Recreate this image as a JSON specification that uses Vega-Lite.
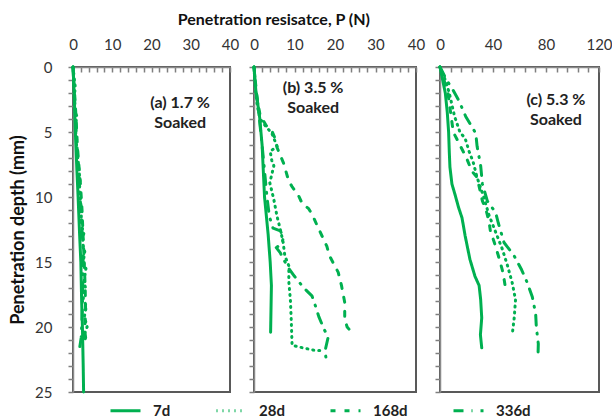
{
"$schema":"https://vega.github.io/schema/vega-lite/v6.json",
"padding":{"left":8,"top":12,"right":2,"bottom":0},
"config":{
  "font":"Lato",
  "view":{"stroke":"#595959","strokeWidth":2},
  "axis":{"domainColor":"#8a8a8a","domainWidth":1.5,"labelFontSize":15,"labelColor":"#333333","grid":false,"titleFontSize":18,"titleFontWeight":"bold","titleColor":"#111111","labelOverlap":false,"labelFlush":false,"ticks":true,"tickColor":"#7f7f7f","tickWidth":1.5,"tickOpacity":1}
},
"title":{"text":"Penetration resisatce, P (N)","fontSize":16,"fontWeight":"bold","color":"#111111","anchor":"middle","dx":-37,"offset":8},
"bounds":"flush",
"spacing":24,
"datasets":{
 "a":[
  {"age":"7d","P":0,"d":0},{"age":"7d","P":0.3,"d":2},{"age":"7d","P":0.6,"d":5},{"age":"7d","P":1.0,"d":8},{"age":"7d","P":1.3,"d":10},{"age":"7d","P":1.7,"d":13},{"age":"7d","P":2.0,"d":15},{"age":"7d","P":2.2,"d":18},{"age":"7d","P":2.4,"d":20},{"age":"7d","P":2.6,"d":23},{"age":"7d","P":2.7,"d":25},
  {"age":"28d","P":0,"d":0},{"age":"28d","P":0.6,"d":1.6},{"age":"28d","P":0.3,"d":2.2},{"age":"28d","P":0.5,"d":3.4},{"age":"28d","P":1.0,"d":3.8},{"age":"28d","P":0.6,"d":4.5},{"age":"28d","P":0.9,"d":6},{"age":"28d","P":1.4,"d":7.5},{"age":"28d","P":1.8,"d":8.8},{"age":"28d","P":1.6,"d":9.5},{"age":"28d","P":2.0,"d":10.5},{"age":"28d","P":2.2,"d":12.3},{"age":"28d","P":2.8,"d":12.7},{"age":"28d","P":2.4,"d":13.5},{"age":"28d","P":3.0,"d":14.2},{"age":"28d","P":2.6,"d":15},{"age":"28d","P":3.3,"d":15.5},{"age":"28d","P":2.8,"d":16.5},{"age":"28d","P":3.2,"d":17},{"age":"28d","P":2.6,"d":17.8},{"age":"28d","P":3.4,"d":18.4},{"age":"28d","P":2.9,"d":19.2},{"age":"28d","P":3.6,"d":20},{"age":"28d","P":2.8,"d":20.6},{"age":"28d","P":3.2,"d":21},
  {"age":"168d","P":0,"d":0},{"age":"168d","P":0.4,"d":2},{"age":"168d","P":0.8,"d":4},{"age":"168d","P":1.1,"d":6},{"age":"168d","P":1.4,"d":7.2},{"age":"168d","P":1.9,"d":9},{"age":"168d","P":2.3,"d":11},{"age":"168d","P":2.6,"d":13.2},{"age":"168d","P":2.9,"d":15.3},{"age":"168d","P":3.1,"d":17},{"age":"168d","P":3.2,"d":18.6},{"age":"168d","P":3.0,"d":20.3},{"age":"168d","P":3.3,"d":21},
  {"age":"336d","P":0,"d":0},{"age":"336d","P":0.5,"d":3},{"age":"336d","P":0.9,"d":5.5},{"age":"336d","P":1.3,"d":7.5},{"age":"336d","P":1.8,"d":10},{"age":"336d","P":2.3,"d":12.5},{"age":"336d","P":2.6,"d":14},{"age":"336d","P":2.5,"d":16.5},{"age":"336d","P":2.4,"d":18.5},{"age":"336d","P":2.1,"d":20.8},{"age":"336d","P":1.5,"d":22}
 ],
 "b":[
  {"age":"7d","P":0,"d":0},{"age":"7d","P":0.5,"d":2},{"age":"7d","P":1.0,"d":3},{"age":"7d","P":1.4,"d":3.9},{"age":"7d","P":2.0,"d":6},{"age":"7d","P":2.6,"d":10},{"age":"7d","P":3.5,"d":12.9},{"age":"7d","P":4.0,"d":15},{"age":"7d","P":4.3,"d":16.8},{"age":"7d","P":4.1,"d":20.4},
  {"age":"28d","P":0,"d":0},{"age":"28d","P":0.3,"d":1.5},{"age":"28d","P":0.8,"d":3},{"age":"28d","P":1.5,"d":4},{"age":"28d","P":3.0,"d":4.6},{"age":"28d","P":4.4,"d":5.1},{"age":"28d","P":5.7,"d":6.1},{"age":"28d","P":4.0,"d":6.5},{"age":"28d","P":4.4,"d":7.2},{"age":"28d","P":4.9,"d":7.6},{"age":"28d","P":3.9,"d":8.9},{"age":"28d","P":4.9,"d":10.2},{"age":"28d","P":5.7,"d":11.5},{"age":"28d","P":6.5,"d":12.5},{"age":"28d","P":7.2,"d":13.5},{"age":"28d","P":7.6,"d":14.5},{"age":"28d","P":8.6,"d":15.3},{"age":"28d","P":8.6,"d":16.5},{"age":"28d","P":9.0,"d":18},{"age":"28d","P":9.2,"d":19.5},{"age":"28d","P":9.4,"d":21.4},{"age":"28d","P":12.0,"d":21.6},{"age":"28d","P":15.1,"d":21.8},{"age":"28d","P":17.0,"d":21.8},
  {"age":"168d","P":0,"d":0},{"age":"168d","P":0.3,"d":1},{"age":"168d","P":0.8,"d":2.5},{"age":"168d","P":1.5,"d":3.7},{"age":"168d","P":3.0,"d":4.5},{"age":"168d","P":4.4,"d":4.9},{"age":"168d","P":5.2,"d":5.5},{"age":"168d","P":5.7,"d":6.2},{"age":"168d","P":6.5,"d":6.8},{"age":"168d","P":7.3,"d":7.4},{"age":"168d","P":8.6,"d":8.8},{"age":"168d","P":9.4,"d":9.2},{"age":"168d","P":11.0,"d":9.9},{"age":"168d","P":11.9,"d":10.5},{"age":"168d","P":13.5,"d":10.9},{"age":"168d","P":14.3,"d":11.3},{"age":"168d","P":15.6,"d":12.2},{"age":"168d","P":16.8,"d":13},{"age":"168d","P":18.0,"d":13.8},{"age":"168d","P":18.6,"d":14.5},{"age":"168d","P":20.8,"d":15.8},{"age":"168d","P":21.6,"d":16.8},{"age":"168d","P":22.4,"d":18.1},{"age":"168d","P":22.4,"d":19.4},{"age":"168d","P":23.0,"d":20},{"age":"168d","P":24.1,"d":20.4},
  {"age":"336d","P":0,"d":0},{"age":"336d","P":0.4,"d":1.5},{"age":"336d","P":1.0,"d":3},{"age":"336d","P":1.5,"d":4.5},{"age":"336d","P":2.0,"d":6},{"age":"336d","P":2.6,"d":8},{"age":"336d","P":3.2,"d":10},{"age":"336d","P":3.8,"d":11.5},{"age":"336d","P":4.7,"d":12.4},{"age":"336d","P":6.5,"d":12.6},{"age":"336d","P":7.3,"d":13.1},{"age":"336d","P":6.8,"d":13.6},{"age":"336d","P":5.5,"d":13.9},{"age":"336d","P":6.5,"d":14.3},{"age":"336d","P":7.3,"d":14.8},{"age":"336d","P":8.6,"d":15.5},{"age":"336d","P":10.0,"d":16.1},{"age":"336d","P":12.3,"d":17},{"age":"336d","P":14.3,"d":17.6},{"age":"336d","P":15.3,"d":18.5},{"age":"336d","P":16.0,"d":19.2},{"age":"336d","P":17.2,"d":20.1},{"age":"336d","P":18.3,"d":20.8},{"age":"336d","P":17.5,"d":21.9},{"age":"336d","P":17.8,"d":22.4},{"age":"336d","P":18.8,"d":22.7}
 ],
 "c":[
  {"age":"7d","P":0,"d":0},{"age":"7d","P":2,"d":1},{"age":"7d","P":4,"d":2},{"age":"7d","P":5.5,"d":3.5},{"age":"7d","P":6.5,"d":5},{"age":"7d","P":7,"d":6.5},{"age":"7d","P":7.5,"d":7.7},{"age":"7d","P":9,"d":9},{"age":"7d","P":11.3,"d":9.8},{"age":"7d","P":14,"d":10.8},{"age":"7d","P":16.6,"d":11.6},{"age":"7d","P":19,"d":13},{"age":"7d","P":22.6,"d":14.8},{"age":"7d","P":26.4,"d":16.1},{"age":"7d","P":29.5,"d":16.8},{"age":"7d","P":30.7,"d":17.9},{"age":"7d","P":31.5,"d":19.3},{"age":"7d","P":30.5,"d":20.6},{"age":"7d","P":31.5,"d":21.6},
  {"age":"28d","P":0,"d":0},{"age":"28d","P":4,"d":1},{"age":"28d","P":7,"d":2},{"age":"28d","P":11,"d":3.8},{"age":"28d","P":15,"d":5},{"age":"28d","P":19,"d":5.5},{"age":"28d","P":22,"d":6.5},{"age":"28d","P":25,"d":7.3},{"age":"28d","P":28,"d":8.5},{"age":"28d","P":33,"d":10},{"age":"28d","P":37,"d":11.4},{"age":"28d","P":42,"d":12.7},{"age":"28d","P":47,"d":14},{"age":"28d","P":51,"d":15.3},{"age":"28d","P":54.5,"d":16.6},{"age":"28d","P":57,"d":17.9},{"age":"28d","P":56,"d":19.3},{"age":"28d","P":54.5,"d":20.6},
  {"age":"168d","P":0,"d":0},{"age":"168d","P":3,"d":1},{"age":"168d","P":6,"d":2},{"age":"168d","P":8,"d":3.5},{"age":"168d","P":10,"d":5},{"age":"168d","P":15,"d":6},{"age":"168d","P":20,"d":7},{"age":"168d","P":24,"d":8},{"age":"168d","P":28,"d":8.5},{"age":"168d","P":32,"d":10.3},{"age":"168d","P":35,"d":11.1},{"age":"168d","P":37,"d":11.9},{"age":"168d","P":38,"d":12.6},{"age":"168d","P":41,"d":13.5},{"age":"168d","P":44,"d":14.5},{"age":"168d","P":47,"d":15.6},{"age":"168d","P":48.5,"d":16.4},{"age":"168d","P":50,"d":17.4},
  {"age":"336d","P":0,"d":0},{"age":"336d","P":5,"d":1},{"age":"336d","P":10,"d":1.8},{"age":"336d","P":14.3,"d":2.6},{"age":"336d","P":19.4,"d":3.8},{"age":"336d","P":27,"d":5.1},{"age":"336d","P":28,"d":6.1},{"age":"336d","P":30.7,"d":7.6},{"age":"336d","P":32,"d":9},{"age":"336d","P":35.7,"d":10.3},{"age":"336d","P":42,"d":11.2},{"age":"336d","P":44,"d":12},{"age":"336d","P":48.3,"d":13.5},{"age":"336d","P":55.8,"d":14.5},{"age":"336d","P":61.6,"d":15.6},{"age":"336d","P":65.9,"d":16.6},{"age":"336d","P":69.7,"d":17.7},{"age":"336d","P":72.2,"d":19},{"age":"336d","P":72.7,"d":20},{"age":"336d","P":74.2,"d":21.3},{"age":"336d","P":74,"d":22.1}
 ]
},
"hconcat":[
 {"width":157,"height":325,
  "layer":[
   {"data":{"name":"a"},
    "mark":{"type":"line","color":"#00B050","strokeWidth":3,"strokeCap":"round","strokeJoin":"round"},
    "encoding":{
     "x":{"field":"P","type":"quantitative","scale":{"domain":[0,40],"nice":false},"axis":{"orient":"top","title":null,"values":[0,2,4,6,8,10,12,14,16,18,20,22,24,26,28,30,32,34,36,38,40],"labelExpr":"datum.value % 10 === 0 ? datum.label : ''","tickSize":-5,"labelPadding":20}},
     "y":{"field":"d","type":"quantitative","scale":{"domain":[0,25],"reverse":true,"nice":false},"axis":{"values":[0,1,2,3,4,5,6,7,8,9,10,11,12,13,14,15,16,17,18,19,20,21,22,23,24,25],"labelExpr":"datum.value % 5 === 0 ? datum.label : ''","title":"Penetration depth (mm)","tickSize":5,"labelPadding":16,"titlePadding":7}},
     "strokeDash":{"field":"age","type":"nominal","scale":{"domain":["7d","28d","168d","336d"],"range":[[1,0],[1,5],[5,9],[10,8,1,8]]},
      "legend":{"title":null,"orient":"none","direction":"horizontal","legendX":36,"legendY":327,"symbolType":"stroke","symbolSize":900,"symbolStrokeWidth":3,"symbolStrokeColor":"#00B050","labelFontSize":15,"labelFontWeight":"bold","labelColor":"#222222","labelOffset":11,"columnPadding":39}},
     "order":{"value":null}
    }},
   {"data":{"values":[{"t":"a"}]},
    "mark":{"type":"text","fontSize":16,"fontWeight":"bold","color":"#222222","lineHeight":20,"align":"center","baseline":"middle"},
    "encoding":{
     "x":{"datum":27.3,"type":"quantitative","axis":{"orient":"top","title":null,"values":[0,2,4,6,8,10,12,14,16,18,20,22,24,26,28,30,32,34,36,38,40],"labelExpr":"datum.value % 10 === 0 ? datum.label : ''","tickSize":-5,"labelPadding":20}},
     "y":{"datum":2.8,"type":"quantitative","axis":{"values":[0,1,2,3,4,5,6,7,8,9,10,11,12,13,14,15,16,17,18,19,20,21,22,23,24,25],"labelExpr":"datum.value % 5 === 0 ? datum.label : ''","title":"Penetration depth (mm)","tickSize":5,"labelPadding":16,"titlePadding":7}},
     "text":{"value":["(a) 1.7 %","Soaked"]}}}
  ]},
 {"width":162,"height":325,
  "layer":[
   {"data":{"name":"b"},
    "mark":{"type":"line","color":"#00B050","strokeWidth":3,"strokeCap":"round","strokeJoin":"round"},
    "encoding":{
     "x":{"field":"P","type":"quantitative","scale":{"domain":[0,40],"nice":false},"axis":{"orient":"top","title":null,"values":[0,2,4,6,8,10,12,14,16,18,20,22,24,26,28,30,32,34,36,38,40],"labelExpr":"datum.value % 10 === 0 ? datum.label : ''","tickSize":-5,"labelPadding":20}},
     "y":{"field":"d","type":"quantitative","scale":{"domain":[0,25],"reverse":true,"nice":false},"axis":{"values":[0,1,2,3,4,5,6,7,8,9,10,11,12,13,14,15,16,17,18,19,20,21,22,23,24,25],"labels":false,"title":null,"tickSize":5}},
     "strokeDash":{"field":"age","type":"nominal","scale":{"domain":["7d","28d","168d","336d"],"range":[[1,0],[1,5],[5,9],[10,8,1,8]]},"legend":null},
     "order":{"value":null}
    }},
   {"data":{"values":[{"t":"b"}]},
    "mark":{"type":"text","fontSize":16,"fontWeight":"bold","color":"#222222","lineHeight":20,"align":"center","baseline":"middle"},
    "encoding":{
     "x":{"datum":14.6,"type":"quantitative","axis":{"orient":"top","title":null,"values":[0,2,4,6,8,10,12,14,16,18,20,22,24,26,28,30,32,34,36,38,40],"labelExpr":"datum.value % 10 === 0 ? datum.label : ''","tickSize":-5,"labelPadding":20}},
     "y":{"datum":1.6,"type":"quantitative","axis":{"values":[0,1,2,3,4,5,6,7,8,9,10,11,12,13,14,15,16,17,18,19,20,21,22,23,24,25],"labels":false,"title":null,"tickSize":5}},
     "text":{"value":["(b) 3.5 %","Soaked"]}}}
  ]},
 {"width":159,"height":325,
  "layer":[
   {"data":{"name":"c"},
    "mark":{"type":"line","color":"#00B050","strokeWidth":3,"strokeCap":"round","strokeJoin":"round"},
    "encoding":{
     "x":{"field":"P","type":"quantitative","scale":{"domain":[0,120],"nice":false},"axis":{"orient":"top","title":null,"values":[0,8,16,24,32,40,48,56,64,72,80,88,96,104,112,120],"labelExpr":"datum.value % 40 === 0 ? datum.label : ''","tickSize":-5,"labelPadding":20}},
     "y":{"field":"d","type":"quantitative","scale":{"domain":[0,25],"reverse":true,"nice":false},"axis":{"values":[0,1,2,3,4,5,6,7,8,9,10,11,12,13,14,15,16,17,18,19,20,21,22,23,24,25],"labels":false,"title":null,"tickSize":5}},
     "strokeDash":{"field":"age","type":"nominal","scale":{"domain":["7d","28d","168d","336d"],"range":[[1,0],[1,5],[5,9],[10,8,1,8]]},"legend":null},
     "order":{"value":null}
    }},
   {"data":{"values":[{"t":"c"}]},
    "mark":{"type":"text","fontSize":16,"fontWeight":"bold","color":"#222222","lineHeight":20,"align":"center","baseline":"middle"},
    "encoding":{
     "x":{"datum":87.5,"type":"quantitative","axis":{"orient":"top","title":null,"values":[0,8,16,24,32,40,48,56,64,72,80,88,96,104,112,120],"labelExpr":"datum.value % 40 === 0 ? datum.label : ''","tickSize":-5,"labelPadding":20}},
     "y":{"datum":2.55,"type":"quantitative","axis":{"values":[0,1,2,3,4,5,6,7,8,9,10,11,12,13,14,15,16,17,18,19,20,21,22,23,24,25],"labels":false,"title":null,"tickSize":5}},
     "text":{"value":["(c) 5.3 %","Soaked"]}}}
  ]}
],
"resolve":{"scale":{"strokeDash":"shared"}}
}
